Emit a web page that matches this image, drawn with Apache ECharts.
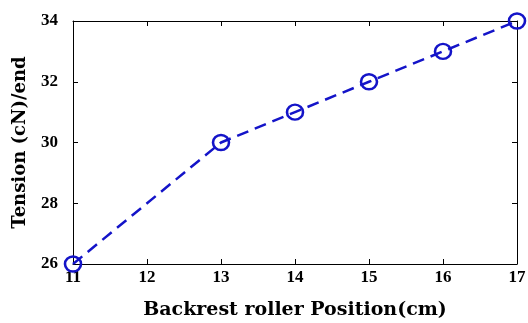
<!DOCTYPE html>
<html><head><meta charset="utf-8">
<script src="https://cdn.jsdelivr.net/npm/echarts@6/dist/echarts.min.js"></script>
<style>html,body{margin:0;padding:0;background:#fff}#c{width:528px;height:323px}</style>
</head><body><div id="c"></div>
<script>
const positions = [11, 13, 14, 15, 16, 17];
const tension = [26, 30, 31, 32, 33, 34];
const xTitle = 'Backrest roller Position(cm)';
const yTitle = 'Tension (cN)/end';

const font = 'Liberation Serif';
const titleFont = 'DejaVu Serif';
const axisLine = {show: true, lineStyle: {color: '#000', width: 1}};
const chart = echarts.init(document.getElementById('c'));
chart.setOption({
  animation: false,
  grid: {left: 73, right: 11, top: 21, bottom: 59, outerBoundsMode: 'none', containLabel: false},
  xAxis: [{
    type: 'value', min: 11, max: 17, interval: 1,
    axisLine, axisTick: {show: true, inside: true, length: 5, lineStyle: {color: '#000'}},
    splitLine: {show: false},
    axisLabel: {color: '#000', fontFamily: font, fontWeight: 'bold', fontSize: 17, margin: 5},
    name: xTitle, nameLocation: 'middle', nameGap: 37,
    nameTextStyle: {color: '#000', fontFamily: titleFont, fontWeight: 'bold', fontSize: 19}
  }, {
    type: 'value', position: 'top', min: 11, max: 17, interval: 1,
    axisLine, axisTick: {show: true, inside: true, length: 5, lineStyle: {color: '#000'}},
    axisLabel: {show: false}, splitLine: {show: false}
  }],
  yAxis: [{
    type: 'value', min: 26, max: 34, interval: 2,
    axisLine, axisTick: {show: true, inside: true, length: 5, lineStyle: {color: '#000'}},
    splitLine: {show: false},
    axisLabel: {color: '#000', fontFamily: font, fontWeight: 'bold', fontSize: 17, margin: 15},
    name: yTitle, nameLocation: 'middle', nameGap: 44,
    nameTextStyle: {color: '#000', fontFamily: titleFont, fontWeight: 'bold', fontSize: 18}
  }, {
    type: 'value', position: 'right', min: 26, max: 34, interval: 2,
    axisLine, axisTick: {show: true, inside: true, length: 5, lineStyle: {color: '#000'}},
    axisLabel: {show: false}, splitLine: {show: false}
  }],
  series: [{
    type: 'line',
    data: positions.map((p, i) => [p, tension[i]]),
    symbol: 'circle', symbolSize: [16, 15], showSymbol: true,
    itemStyle: {color: 'rgba(0,0,0,0)', borderColor: '#1414c8', borderWidth: 2.5},
    lineStyle: {color: '#1414c8', width: 2.5, type: [12, 7]},
    clip: false, z: 5
  }]
});
</script></body></html>
